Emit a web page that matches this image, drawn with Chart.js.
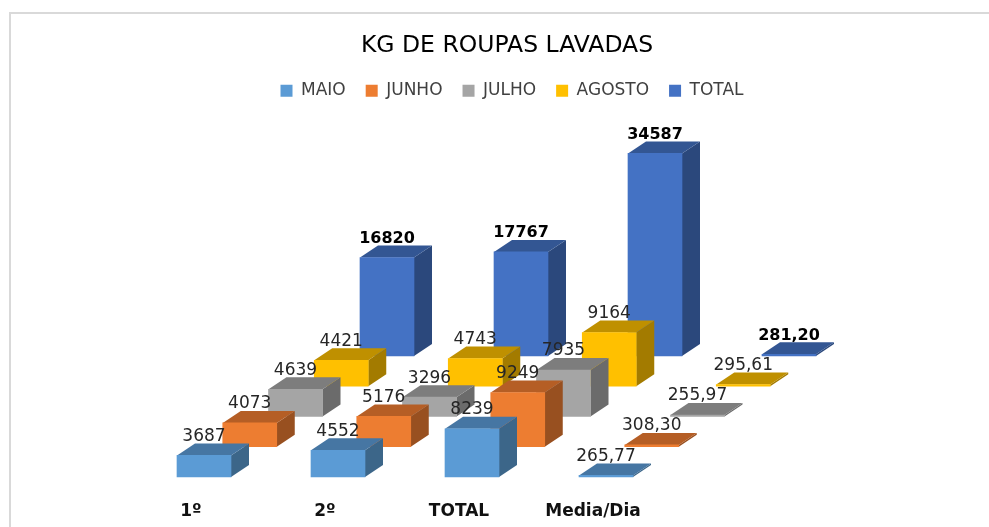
<!DOCTYPE html>
<html><head><meta charset="utf-8">
<script src="https://cdn.jsdelivr.net/npm/chart.js@4"></script>
<style>
html,body{margin:0;padding:0;background:#fff;overflow:hidden}
#frame{position:absolute;left:9px;top:12px;width:990px;height:530px;border-left:2px solid #d9d9d9;border-top:2px solid #d9d9d9}
#wrap{position:absolute;left:0;top:0;width:989px;height:527px}
</style></head><body>
<div id="frame"></div>
<div id="wrap"><canvas id="c" width="989" height="527"></canvas></div>
<script>
const categories = ['1º','2º','TOTAL','Media/Dia'];
const seriesNames = ['MAIO','JUNHO','JULHO','AGOSTO','TOTAL'];
const maio   = [3687,4552,8239,265.77];
const junho  = [4073,5176,9249,308.30];
const julho  = [4639,3296,7935,255.97];
const agosto = [4421,4743,9164,295.61];
const total  = [16820,17767,34587,281.20];
const frontColors = ['#5B9BD5','#ED7D31','#A5A5A5','#FFC000','#4472C4'];
const topColors   = ['#4676A3','#B55E25','#7D7D7D','#BF9000','#335693'];
const sideColors  = ['#3C6689','#985020','#6B6B6B','#A37B00','#2B487C'];
const seriesValues = [maio,junho,julho,agosto,total];

const depth = {baseX:13, stepX:45.75, stepY:30.25, sideX:18, sideY:12};
const FONT = '"DejaVu Sans"';

const box3d = {
  id:'box3d',
  afterLayout(chart){ chart.legend.left+=5; chart.legend.right+=5; },
  beforeDatasetDraw(chart,args){
    const i=args.index, ctx=chart.ctx;
    ctx.save();
    ctx.translate(depth.baseX+depth.stepX*i,-depth.stepY*i);
    args.meta.data.forEach(el=>{
      const l=el.x-el.width/2, r=el.x+el.width/2, t=el.y, b=el.base;
      ctx.fillStyle=sideColors[i];
      ctx.beginPath();ctx.moveTo(r,t);ctx.lineTo(r+depth.sideX,t-depth.sideY);
      ctx.lineTo(r+depth.sideX,b-depth.sideY);ctx.lineTo(r,b);ctx.closePath();ctx.fill();
      ctx.fillStyle=topColors[i];
      ctx.beginPath();ctx.moveTo(l,t);ctx.lineTo(l+depth.sideX,t-depth.sideY);
      ctx.lineTo(r+depth.sideX,t-depth.sideY);ctx.lineTo(r,t);ctx.closePath();ctx.fill();
    });
  },
  afterDatasetDraw(chart){ chart.ctx.restore(); },
  afterDatasetsDraw(chart){
    const ctx=chart.ctx;
    ctx.save();ctx.textAlign='center';ctx.textBaseline='middle';
    chart.data.datasets.forEach((ds,i)=>{
      const meta=chart.getDatasetMeta(i);
      const isTotal=i===seriesNames.length-1;
      ctx.font=(isTotal?'bold 16px ':'17px ')+FONT;
      ctx.fillStyle=isTotal?'#000':'#262626';
      meta.data.forEach((el,j)=>{
        const v=ds.data[j];
        const txt=Number.isInteger(v)?String(v):v.toFixed(2).replace('.',',');
        ctx.fillText(txt,el.x+depth.baseX+depth.stepX*i,el.y-depth.stepY*i-19);
      });
    });
    ctx.restore();
  }
};

new Chart(document.getElementById('c'),{
  type:'bar',
  data:{labels:categories,datasets:seriesNames.map((n,i)=>({
    label:n,data:seriesValues[i],backgroundColor:frontColors[i],borderWidth:0,clip:false,grouped:false,barThickness:54
  }))},
  plugins:[box3d],
  options:{
    responsive:false,animation:false,events:[],
    layout:{padding:{left:25,right:0,top:0,bottom:0}},
    plugins:{
      tooltip:{enabled:false},
      title:{display:true,text:'KG DE ROUPAS LAVADAS',color:'#000',font:{family:FONT,size:23.5,weight:'normal'},padding:{top:32,bottom:2}},
      legend:{display:true,position:'top',labels:{boxWidth:12,boxHeight:12,padding:20,color:'#404040',font:{family:FONT,size:17}}}
    },
    scales:{
      x:{grid:{display:false},border:{display:false},offset:true,
         ticks:{color:'#111',padding:16,maxRotation:0,font:{family:FONT,size:17,weight:'bold'}},
         afterFit(s){s.height=50}},
      y:{min:0,max:62800,grid:{display:false},border:{display:false},ticks:{display:false},
         afterFit(s){s.width=99}},
      yR:{position:'right',min:0,max:1,grid:{display:false},border:{display:false},ticks:{display:false},
         afterFit(s){s.width=329}}
    }
  }
});
</script></body></html>
